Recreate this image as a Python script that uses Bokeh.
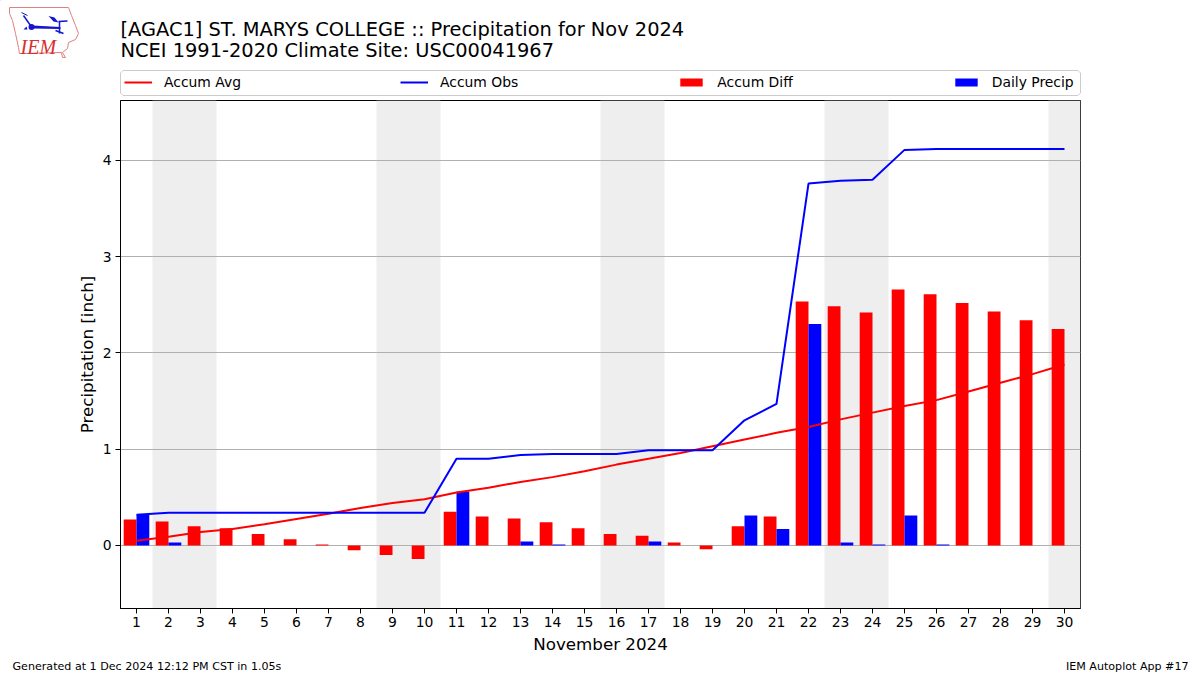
from bokeh.plotting import figure
from bokeh.layouts import column
from bokeh.models import Range1d, FixedTicker, Legend, LegendItem, ColumnDataSource
from bokeh.core.properties import value
from bokeh.embed import file_html
from bokeh.resources import INLINE

days = list(range(1, 31))
accum_avg = [0.05, 0.09, 0.14, 0.17, 0.22, 0.275, 0.33, 0.39, 0.44, 0.48, 0.55, 0.60, 0.66, 0.71, 0.77,
             0.84, 0.90, 0.96, 1.03, 1.10, 1.17, 1.23, 1.31, 1.38, 1.45, 1.51, 1.60, 1.69, 1.78, 1.88]
accum_obs = [0.32, 0.34, 0.34, 0.34, 0.34, 0.34, 0.34, 0.34, 0.34, 0.34, 0.90, 0.90, 0.94, 0.95, 0.95,
             0.95, 0.99, 0.99, 0.99, 1.30, 1.47, 3.76, 3.79, 3.80, 4.11, 4.12, 4.12, 4.12, 4.12, 4.12]
accum_diff = [0.27, 0.25, 0.20, 0.18, 0.12, 0.065, 0.01, -0.05, -0.10, -0.14, 0.35, 0.30, 0.28, 0.24, 0.18,
              0.12, 0.10, 0.03, -0.04, 0.20, 0.30, 2.535, 2.485, 2.42, 2.66, 2.61, 2.52, 2.43, 2.34, 2.25]
daily_precip = [0.32, 0.03, 0, 0, 0, 0, 0, 0, 0, 0, 0.56, 0, 0.04, 0.01, 0,
                0, 0.04, 0, 0, 0.31, 0.17, 2.30, 0.03, 0.01, 0.31, 0.01, 0, 0, 0, 0]
weekend_start = [1.5, 8.5, 15.5, 22.5, 29.5]
weekend_end = [3.5, 10.5, 17.5, 24.5, 30.5]
y_ticks = [0, 1, 2, 3, 4]
title_lines = ["[AGAC1] ST. MARYS COLLEGE :: Precipitation for Nov 2024",
               "NCEI 1991-2020 Climate Site: USC00041967"]
x_label = "November 2024"
y_label = "Precipitation [inch]"
footer_left = "Generated at 1 Dec 2024 12:12 PM CST in 1.05s"
footer_right = "IEM Autoplot App #17"

FONT = "DejaVu Sans"
W = 1200
HEAD_H, MAIN_H, FOOT_H = 99, 560, 16


def canvas(top, bottom):
    """A bare figure whose data coordinates are the page's pixels."""
    f = figure(width=W, height=bottom - top, output_backend="svg", toolbar_location=None,
               x_range=Range1d(0, W), y_range=Range1d(bottom, top), frame_align=False,
               min_border_left=0, min_border_right=0, min_border_top=0, min_border_bottom=0,
               x_axis_location=None, y_axis_location=None)
    f.grid.visible = False
    f.outline_line_color = None
    return f


def put(f, text, x, y, size, align="left", color="black", font=FONT, style="normal"):
    f.text(x=[x], y=[y], text=[text], text_font=value(font), text_font_size=size, text_align=align,
           text_color=color, text_font_style=style, text_baseline="middle")


# ---- main plot
p = figure(width=W, height=MAIN_H, output_backend="svg", toolbar_location=None,
           x_range=Range1d(0.5, 30.5), y_range=Range1d(-0.655, 4.623), frame_align=False,
           min_border_left=120, min_border_right=120, min_border_top=1, min_border_bottom=51)
p.outline_line_color = "black"
p.outline_line_width = 1
p.xgrid.visible = False
p.ygrid.grid_line_color = "#b0b0b0"
p.ygrid.grid_line_width = 1.1
p.background_fill_color = "white"

for ax in (p.xaxis[0], p.yaxis[0]):
    ax.major_label_text_font = FONT
    ax.major_label_text_font_size = "13.9px"
    ax.major_label_text_color = "black"
    ax.axis_label_text_font = FONT
    ax.axis_label_text_font_size = "16.7px"
    ax.axis_label_text_font_style = "normal"
    ax.axis_label_text_color = "black"
    ax.major_tick_in = 0
    ax.major_tick_out = 5
    ax.minor_tick_line_color = None
    ax.axis_line_color = "black"
    ax.major_tick_line_color = "black"
p.xaxis[0].ticker = FixedTicker(ticks=days)
p.yaxis[0].ticker = FixedTicker(ticks=y_ticks)
p.xaxis[0].axis_label = x_label
p.yaxis[0].axis_label = y_label
p.xaxis[0].major_label_standoff = 3
p.yaxis[0].major_label_standoff = 4
p.xaxis[0].axis_label_standoff = 4
p.yaxis[0].axis_label_standoff = 3

p.quad(left=weekend_start, right=weekend_end, bottom=-0.655, top=4.623,
       fill_color="#eeeeee", line_color=None, level="underlay")

src = ColumnDataSource(dict(
    day=days, avg=accum_avg, obs=accum_obs, diff=accum_diff, daily=daily_precip,
    diff_x=[d - 0.2 for d in days], daily_x=[d + 0.2 for d in days]))
p.vbar(x="diff_x", top="diff", bottom=0, width=0.4, fill_color="red", line_color=None, source=src)
p.vbar(x="daily_x", top="daily", bottom=0, width=0.4, fill_color="blue", line_color=None, source=src)
p.line(x="day", y="avg", line_color="red", line_width=2, source=src)
p.line(x="day", y="obs", line_color="blue", line_width=2, source=src)

# ---- header: logo, titles, legend
head = canvas(0, HEAD_H)
put(head, title_lines[0], 120, 29, "19.4px")
put(head, title_lines[1], 120, 50, "19.4px")

LOGO_BLUE = "#1414d2"
outline_x = [9, 68, 71, 75, 78, 75, 68, 67, 62, 65, 62, 61, 19, 18, 15, 12, 9]
outline_y = [7, 7, 15, 25, 33, 39, 42, 48, 52, 57, 57, 52, 53, 47, 33, 20, 13]
head.patch(outline_x, outline_y, fill_color=None, line_color="#e08080", line_width=1)
head.patch([32, 60, 60, 32], [25, 26.5, 28.5, 28], fill_color=LOGO_BLUE, line_color=None)
head.patch([48, 54, 58, 53], [15.5, 17, 22, 21], fill_color=LOGO_BLUE, line_color=None)
head.line([59, 59], [21, 33], line_color=LOGO_BLUE, line_width=1.5)
head.line([58, 67], [21, 20.5], line_color=LOGO_BLUE, line_width=1.5)
head.line([55, 63], [30, 33], line_color=LOGO_BLUE, line_width=1.5)
head.line([23, 30], [15, 25], line_color=LOGO_BLUE, line_width=1.5)
head.line([21, 27], [12, 15], line_color=LOGO_BLUE, line_width=1)
head.patch([23, 26, 27, 23], [29, 26, 29, 29], fill_color=LOGO_BLUE, line_color=None)
head.scatter([31], [26.5], size=6, marker="circle", fill_color=LOGO_BLUE, line_color=None)
put(head, "IEM", 20, 46, "20px", color="#d83030", font="Liberation Serif", style="italic")

# legend frame, slightly rounded, spanning the plot's width
head.patch([122.5, 1077.5, 1080, 1080, 1077.5, 122.5, 120, 120],
           [70, 70, 72.5, 92.5, 95, 95, 92.5, 72.5],
           fill_color="white", line_color="#cccccc", line_width=1)

h_avg = head.line([-50, -40], [-50, -50], line_color="red", line_width=2)
h_obs = head.line([-50, -40], [-50, -50], line_color="blue", line_width=2)
h_diff = head.vbar(x=[-50], top=[-50], bottom=-60, width=1, fill_color="red", line_color=None)
h_daily = head.vbar(x=[-50], top=[-50], bottom=-60, width=1, fill_color="blue", line_color=None)
legend = Legend(items=[LegendItem(label="Accum Avg", renderers=[h_avg]),
                       LegendItem(label="Accum Obs", renderers=[h_obs]),
                       LegendItem(label="Accum Diff", renderers=[h_diff]),
                       LegendItem(label="Daily Precip", renderers=[h_daily])],
                orientation="horizontal", location=(124, 9), spacing=159, margin=0, padding=3,
                glyph_width=28, glyph_height=10, label_standoff=12, label_height=13,
                label_text_font=FONT, label_text_font_size="13.9px", label_text_color="black",
                border_line_color=None, background_fill_alpha=0)
head.add_layout(legend, "center")

# ---- footer
foot = canvas(HEAD_H + MAIN_H, HEAD_H + MAIN_H + FOOT_H)
put(foot, footer_left, 12, 666, "11.1px")
put(foot, footer_right, 1188, 666, "11.1px", align="right")

page = column(head, p, foot, spacing=0)
open("out.html", "w").write(file_html(page, INLINE))
